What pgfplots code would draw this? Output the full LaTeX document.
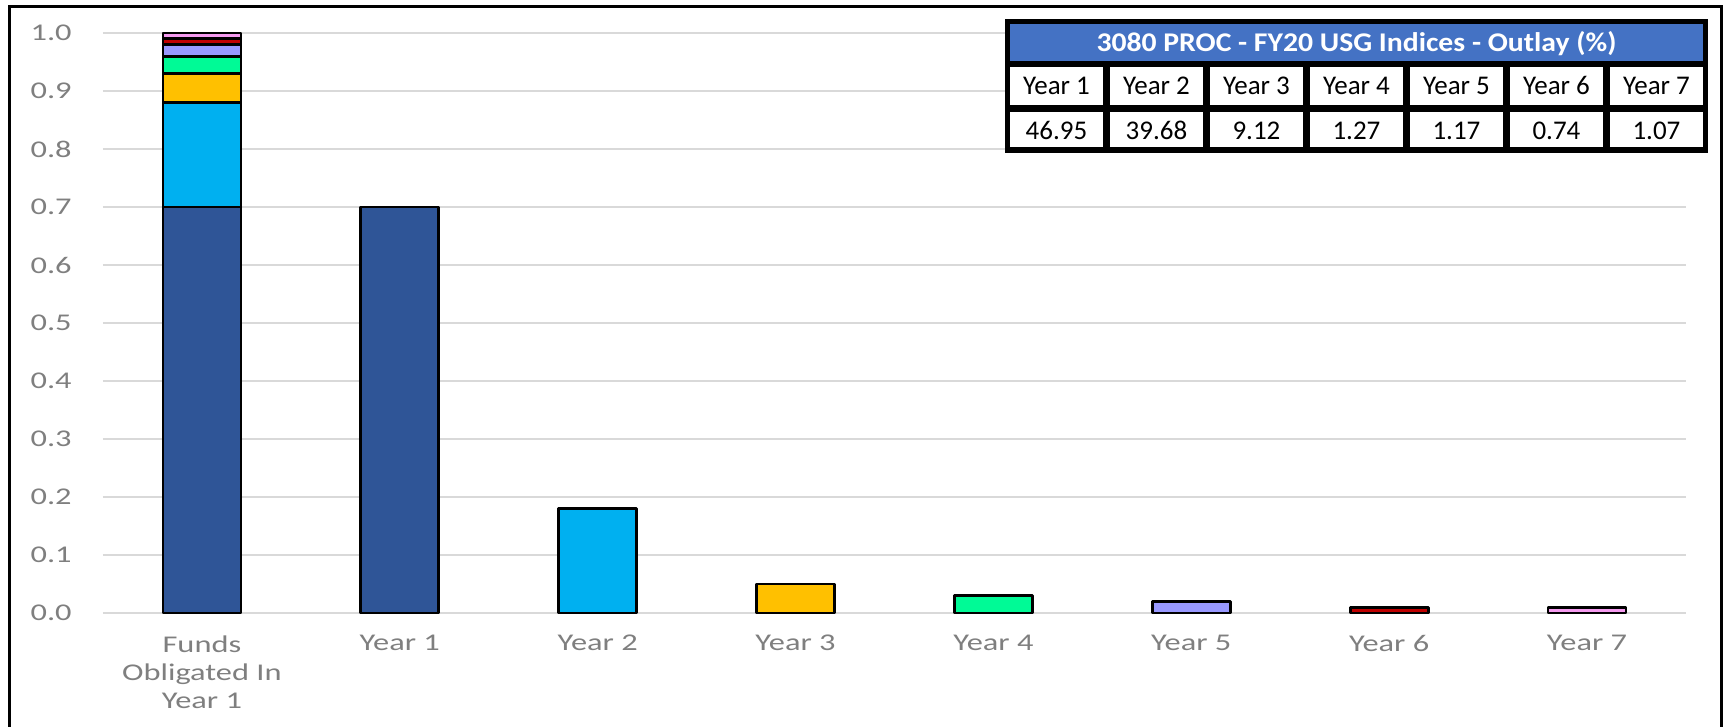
\documentclass[border=0pt]{standalone}
\usepackage{fontspec}
\setmainfont{Carlito}
\newfontfamily\axfont[FakeStretch=1.35]{Carlito}
\newfontfamily\hdrfont[FakeStretch=1.1]{Carlito}
\usepackage{pgfplots}
\pgfplotsset{compat=1.18}
\definecolor{c1}{HTML}{2F5597}
\definecolor{c2}{HTML}{00B0F0}
\definecolor{c3}{HTML}{FFC000}
\definecolor{c4}{HTML}{00FA96}
\definecolor{c5}{HTML}{9999FF}
\definecolor{c6}{HTML}{C00000}
\definecolor{c7}{HTML}{F59BEF}
\definecolor{hdr}{HTML}{4472C4}
\definecolor{gridgray}{HTML}{D9D9D9}
\definecolor{tickgray}{HTML}{7F7F7F}
\pgfplotsset{
  base/.style={
    at={(0,0)}, anchor=south west, scale only axis,
    width=791.5bp, height=290bp,
    xmin=-0.5, xmax=7.5, ymin=0, ymax=1, clip=false,
  },
  bb/.style={draw=black, line width=1.4bp, line join=round},
}
\begin{document}
\begin{tikzpicture}
\useasboundingbox (-51.5bp,-57bp) rectangle (812bp,306.5bp);
\begin{axis}[base,
  ybar stacked, bar width=39bp,
  axis line style={draw=none}, major tick style={draw=none},
  ytick={0,0.1,0.2,0.3,0.4,0.5,0.6,0.7,0.8,0.9,1.0},
  ymajorgrids, grid style={color=gridgray, line width=1bp},
  xtick={0,1,2,3,4,5,6,7},
  xticklabels={{Funds\\Obligated In\\Year 1},Year 1,Year 2,Year 3,Year 4,Year 5,Year 6,Year 7},
  xticklabel style={align=center, anchor=north, inner sep=0pt, yshift=-11bp,
    font=\axfont\fontsize{12bp}{14bp}\selectfont, text=tickgray},
  yticklabel style={anchor=east, inner sep=0pt, xshift=-15.5bp,
    font=\axfont\fontsize{12bp}{14bp}\selectfont, text=tickgray},
  /pgf/number format/assume math mode=true,
  yticklabel={\pgfmathprintnumber[fixed,fixed zerofill,precision=1]{\tick}},
]
\addplot[bb, fill=c1] coordinates {(0,0.70)};
\addplot[bb, fill=c2] coordinates {(0,0.18)};
\addplot[bb, fill=c3] coordinates {(0,0.05)};
\addplot[bb, fill=c4] coordinates {(0,0.03)};
\addplot[bb, fill=c5] coordinates {(0,0.02)};
\addplot[bb, fill=c6] coordinates {(0,0.01)};
\addplot[bb, fill=c7] coordinates {(0,0.01)};
\end{axis}
\begin{axis}[base, hide axis, ybar, bar width=39bp]
\addplot[bb, fill=c1, bar shift=0pt] coordinates {(1,0.70)};
\addplot[bb, fill=c2, bar shift=0pt] coordinates {(2,0.18)};
\addplot[bb, fill=c3, bar shift=0pt] coordinates {(3,0.05)};
\addplot[bb, fill=c4, bar shift=0pt] coordinates {(4,0.03)};
\addplot[bb, fill=c5, bar shift=0pt] coordinates {(5,0.02)};
\addplot[bb, fill=c6, bar shift=0pt] coordinates {(6,0.01)};
\addplot[bb, fill=c7, bar shift=0pt] coordinates {(7,0.01)};
\end{axis}
\begin{scope}[shift={(-51.5bp,306.5bp)},x=0.5bp,y=-0.5bp]
  % outer frame
  \draw[line width=1.75bp, black] (9.5,727) -- (9.5,6.5) -- (1721.5,6.5) -- (1721.5,727);
  % table
  \fill[black] (1005,19) rectangle (1708,153);
  \fill[hdr] (1010,24) rectangle (1703,61);
  \node[anchor=base, text=white, inner sep=0pt,
    font=\hdrfont\fontsize{13.5bp}{15bp}\selectfont\bfseries] at (1356.5,52)
    {3080 PROC - FY20 USG Indices - Outlay (\%)};
  \foreach \k/\v [count=\i from 0] in {1/46.95,2/39.68,3/9.12,4/1.27,5/1.17,6/0.74,7/1.07} {
    \fill[white] (1010+100*\i,67) rectangle (1103+100*\i,105);
    \fill[white] (1010+100*\i,112) rectangle (1103+100*\i,147);
    \node[anchor=base, inner sep=0pt, font=\fontsize{13.5bp}{15bp}\selectfont]
      at (1056.5+100*\i,95) {Year \k};
    \node[anchor=base, inner sep=0pt, font=\fontsize{13.5bp}{15bp}\selectfont]
      at (1056.5+100*\i,140) {\v};
  }
\end{scope}
\end{tikzpicture}
\end{document}
